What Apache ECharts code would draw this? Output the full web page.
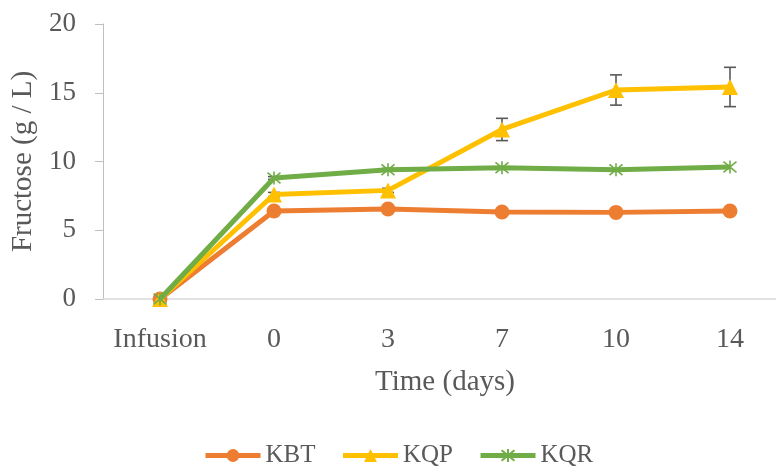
<!DOCTYPE html>
<html><head><meta charset="utf-8">
<script src="https://cdn.jsdelivr.net/npm/echarts@6/dist/echarts.min.js"></script>
<style>html,body{margin:0;padding:0;background:#fff;overflow:hidden;width:776px;height:471px}#c{width:792px;height:471px}</style>
</head><body><div id="c"></div>
<script>
var categories = ['Infusion', '0', '3', '7', '10', '14'];
var kbt = [0, 6.4, 6.55, 6.33, 6.3, 6.4];
var kqp = [0, 7.6, 7.9, 12.33, 15.2, 15.42];
var kqr = [0, 8.8, 9.4, 9.55, 9.4, 9.6];
var kqpErr = [0, 0.15, 0.15, 0.81, 1.1, 1.43];
var kqrErr = [0, 0.1, 0.1, 0, 0, 0];
var yTicks = [0, 5, 10, 15, 20];

var FONT = 'Liberation Serif';
var TXT = '#595959';
var chart = echarts.init(document.getElementById('c'));

function errSeries(vals, errs, name) {
  var data = vals.map(function (v, i) { return [i, v - errs[i], v + errs[i]]; }).filter(function (d, i) { return errs[i] > 0; });
  return {
    type: 'custom', name: name + 'err', z: 1, silent: true,
    renderItem: function (params, api) {
      var lo = api.coord([api.value(0), api.value(1)]);
      var hi = api.coord([api.value(0), api.value(2)]);
      var w = 6;
      var st = { stroke: '#595959', lineWidth: 1.6 };
      return { type: 'group', children: [
        { type: 'line', shape: { x1: lo[0], y1: lo[1], x2: hi[0], y2: hi[1] }, style: st },
        { type: 'line', shape: { x1: lo[0] - w, y1: lo[1], x2: lo[0] + w, y2: lo[1] }, style: st },
        { type: 'line', shape: { x1: hi[0] - w, y1: hi[1], x2: hi[0] + w, y2: hi[1] }, style: st }
      ]};
    },
    data: data
  };
}

chart.setOption({
  animation: false,
  backgroundColor: '#fff',
  textStyle: { fontFamily: FONT, color: TXT },
  grid: { left: 103, width: 684, top: 24, height: 275 },
  legend: {
    left: 203, top: 443, padding: 0,
    itemWidth: 55, itemHeight: 16, itemGap: 25,
    lineStyle: { width: 5 },
    textStyle: { fontFamily: FONT, fontSize: 25, color: TXT },
    data: ['KBT', 'KQP', 'KQR']
  },
  xAxis: {
    type: 'category', data: categories, boundaryGap: true,
    name: 'Time (days)', nameLocation: 'middle', nameGap: 69,
    nameTextStyle: { fontFamily: FONT, fontSize: 29, color: TXT },
    axisLine: { lineStyle: { color: '#d9d9d9', width: 1.5 } },
    axisTick: { show: false },
    axisLabel: { fontFamily: FONT, fontSize: 28, color: TXT, margin: 27, interval: 0 }
  },
  yAxis: {
    type: 'value', min: 0, max: 20, interval: 5,
    name: 'Fructose (g / L)', nameLocation: 'middle', nameGap: 65,
    nameTextStyle: { fontFamily: FONT, fontSize: 29, color: TXT },
    axisLine: { show: true, lineStyle: { color: '#bfbfbf', width: 1 } },
    axisTick: { show: true, length: 8, inside: false, lineStyle: { color: '#bfbfbf' } },
    splitLine: { show: false },
    axisLabel: { fontFamily: FONT, fontSize: 27, color: TXT, margin: 27,
      formatter: function (v) { return yTicks.indexOf(v) >= 0 ? String(v) : ''; } }
  },
  series: [
    errSeries(kqp, kqpErr, 'KQP'),
    errSeries(kqr, kqrErr, 'KQR'),
    { name: 'KBT', type: 'line', data: kbt, z: 3,
      symbol: 'circle', symbolSize: 15,
      lineStyle: { color: '#ED7D31', width: 5 },
      itemStyle: { color: '#ED7D31' } },
    { name: 'KQP', type: 'line', data: kqp, z: 4,
      symbol: 'triangle', symbolSize: 16,
      lineStyle: { color: '#FFC000', width: 5 },
      itemStyle: { color: '#FFC000' } },
    { name: 'KQR', type: 'line', data: kqr, z: 5,
      symbol: 'path://M0,0L10,10M10,0L0,10M5,-1L5,11', symbolSize: 13,
      lineStyle: { color: '#70AD47', width: 5 },
      itemStyle: { color: 'rgba(0,0,0,0)', borderColor: '#70AD47', borderWidth: 1.6 } }
  ]
});
</script></body></html>
